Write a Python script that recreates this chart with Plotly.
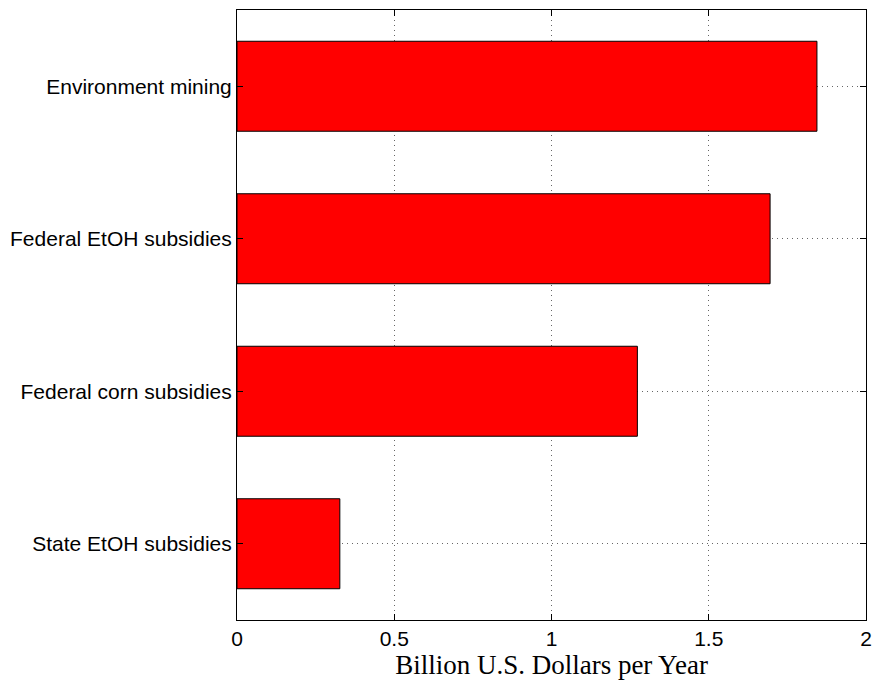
import plotly.graph_objects as go

# Data (bottom to top)
categories = [
    "State EtOH subsidies",
    "Federal corn subsidies",
    "Federal EtOH subsidies",
    "Environment mining",
]
values = [0.327, 1.273, 1.695, 1.844]

x_ticks = [0, 0.5, 1, 1.5, 2]
x_tick_labels = ["0", "0.5", "1", "1.5", "2"]

fig = go.Figure()
fig.add_trace(
    go.Bar(
        x=values,
        y=categories,
        orientation="h",
        width=0.59,
        marker=dict(color="#ff0000", line=dict(color="black", width=1)),
        showlegend=False,
    )
)

fig.update_layout(
    width=873,
    height=680,
    margin=dict(l=237, r=1, t=10, b=60),
    plot_bgcolor="white",
    paper_bgcolor="white",
    font=dict(family="Liberation Sans, Arial, sans-serif", size=21, color="black"),
)

grid_style = dict(
    showgrid=True,
    gridcolor="#666666",
    griddash="1px,4px",
    gridwidth=1,
    zeroline=False,
    showline=True,
    linecolor="black",
    linewidth=1,
    mirror="ticks",
    ticks="inside",
    ticklen=6,
    tickcolor="black",
)

fig.update_xaxes(
    range=[0, 2],
    tickvals=x_ticks,
    ticktext=x_tick_labels,
    ticklabeloverflow="allow",
    title=dict(
        text="Billion U.S. Dollars per Year",
        font=dict(family="Liberation Serif, DejaVu Serif, serif", size=27),
        standoff=4,
    ),
    **grid_style,
)

fig.update_yaxes(
    type="category",
    categoryorder="array",
    categoryarray=categories,
    range=[-0.5, 3.5],
    **grid_style,
)

fig.write_html(
    "out.html",
    config={"displayModeBar": False},
    post_script="document.body.style.margin='0';document.body.style.overflow='hidden';",
)
